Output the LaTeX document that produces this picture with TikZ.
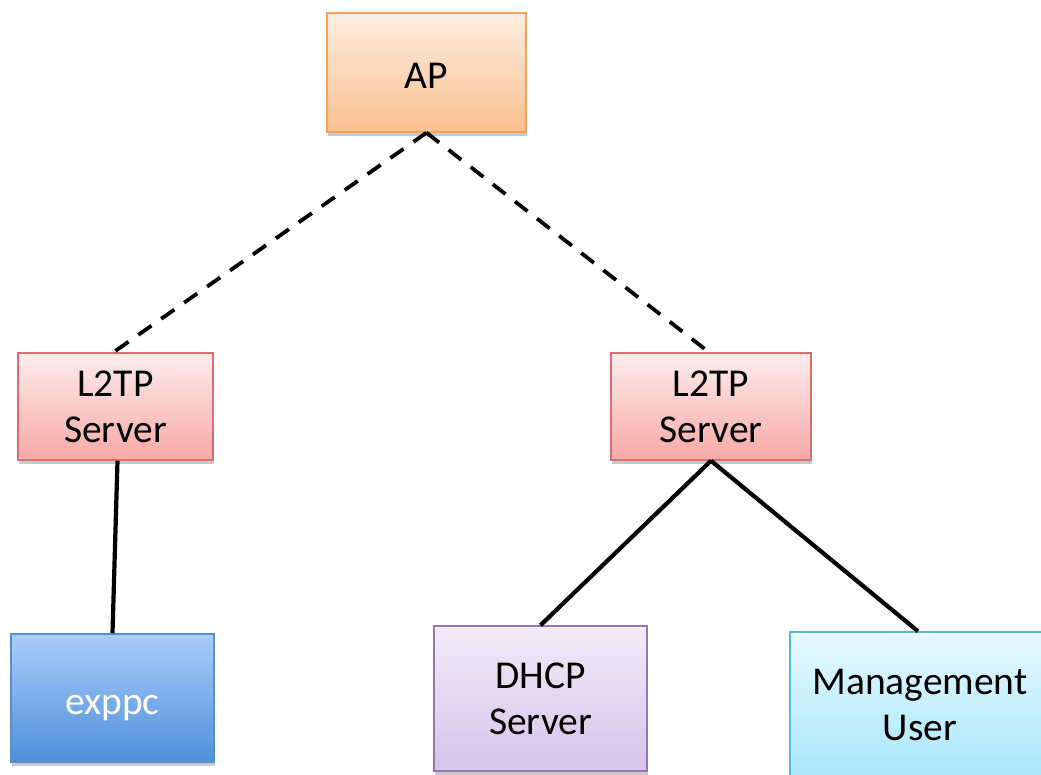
\documentclass[tikz,border=0pt]{standalone}
\usepackage{fontspec}
\setmainfont{Carlito}
\usetikzlibrary{shadows}

\definecolor{apTop}{HTML}{FDEDE0}
\definecolor{apBot}{HTML}{FAC08F}
\definecolor{apLine}{HTML}{F6A25A}
\definecolor{lsTop}{HTML}{FDECEC}
\definecolor{lsBot}{HTML}{F7A9A8}
\definecolor{lsLine}{HTML}{D9706E}
\definecolor{pcTop}{HTML}{A9CDFA}
\definecolor{pcBot}{HTML}{4E8FD8}
\definecolor{pcLine}{HTML}{5B8FCB}
\definecolor{dhTop}{HTML}{F1ECF8}
\definecolor{dhBot}{HTML}{D5C3E9}
\definecolor{dhLine}{HTML}{9277B5}
\definecolor{muTop}{HTML}{E7F8FE}
\definecolor{muBot}{HTML}{A8E7FB}
\definecolor{muLine}{HTML}{5BB8D0}

\tikzset{
  box/.style={rectangle, inner sep=0pt, align=center, line width=1.5pt,
    font=\fontsize{39.5}{46}\selectfont,
    drop shadow={shadow xshift=1pt, shadow yshift=-4pt, opacity=0.3, fill=black!70}},
  oneline/.style={text height=32pt, text depth=0pt},
  apbox/.style={box, oneline, draw=apLine, top color=apTop, bottom color=apBot},
  lsbox/.style={box, draw=lsLine, top color=lsTop, bottom color=lsBot},
  pcbox/.style={box, oneline, draw=pcLine, top color=pcTop, bottom color=pcBot, text=white},
  dhbox/.style={box, draw=dhLine, top color=dhTop, bottom color=dhBot},
  mubox/.style={box, draw=muLine, top color=muTop, bottom color=muBot},
  tunnel/.style={line width=3.8pt, dash pattern=on 16pt off 12pt},
  wire/.style={line width=4.2pt}
}

\begin{document}
\begin{tikzpicture}[x=1pt, y=1pt]
  \useasboundingbox (0,0) rectangle (1041,774);

  % boxes
  \node[apbox, minimum width=199pt, minimum height=119pt] (ap) at (426.5,701.5) {AP};
  \node[lsbox, minimum width=195pt, minimum height=107pt] (l2l) at (115.5,367.5) {L2TP\\Server};
  \node[lsbox, minimum width=200pt, minimum height=107pt] (l2r) at (711,367.5) {L2TP\\Server};
  \node[pcbox, minimum width=203pt, minimum height=128pt] (pc) at (112.5,76) {exppc};
  \node[dhbox, minimum width=213pt, minimum height=145pt] (dhcp) at (540.5,75.5) {DHCP\\Server};
  \node[mubox, minimum width=260pt, minimum height=146pt] (mgmt) at (920,69) {Management\\User};

  % links
  \draw[tunnel] (ap.south) -- ([xshift=-2pt]l2l.north);
  \draw[tunnel] (ap.south) -- ([xshift=-2pt]l2r.north);
  \draw[wire] ([xshift=2pt]l2l.south) -- (pc.north);
  \draw[wire] (l2r.south) -- (dhcp.north);
  \draw[wire] (l2r.south) -- ([xshift=-2pt]mgmt.north);
\end{tikzpicture}
\end{document}
